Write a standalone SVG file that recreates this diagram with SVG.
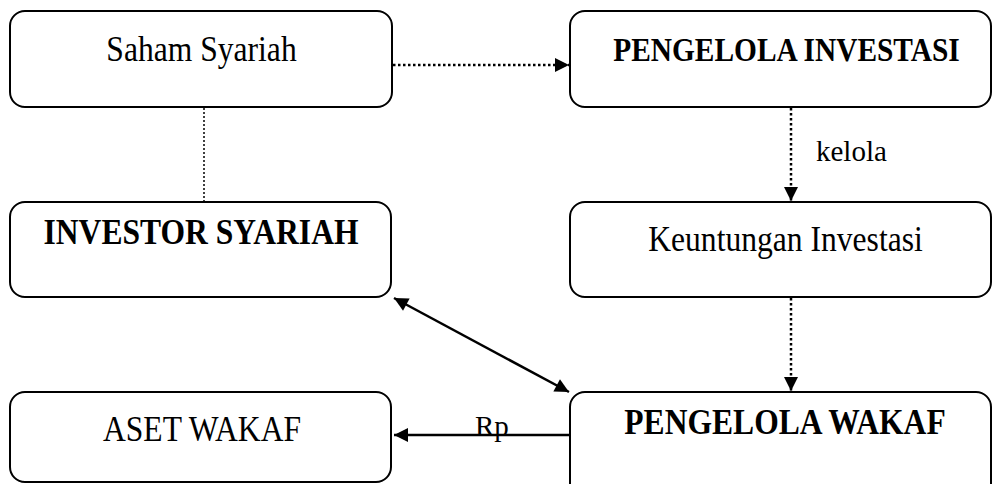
<svg xmlns="http://www.w3.org/2000/svg" width="992" height="484" viewBox="0 0 992 484">
<defs>
<style>
.box{fill:#fff;stroke:#000;stroke-width:2}
.t{font-family:"Liberation Serif","Times New Roman",serif;font-size:31.6px;text-anchor:middle;fill:#000}
.b{font-weight:bold}
.lbl{font-family:"Liberation Serif","Times New Roman",serif;font-size:29px;fill:#000}
.dot{fill:none;stroke:#000;stroke-width:2.5;stroke-dasharray:2.5 2.5}
.thin{fill:none;stroke:#000;stroke-width:1.5;stroke-dasharray:2 2}
.sol{fill:none;stroke:#000;stroke-width:2.5}
</style>
<marker id="ah" viewBox="0 0 10 10" refX="10" refY="5" markerWidth="16" markerHeight="14" markerUnits="userSpaceOnUse" orient="auto-start-reverse">
<path d="M0,0 L10,5 L0,10 Z" fill="#000"/>
</marker>
</defs>
<rect width="992" height="484" fill="#fff"/>
<g id="connectors">
<line class="dot" x1="393" y1="65" x2="569" y2="65" marker-end="url(#ah)"/>
<line class="thin" x1="204" y1="108" x2="204" y2="202"/>
<line class="dot" x1="791" y1="108" x2="791" y2="201" marker-end="url(#ah)"/>
<line class="dot" x1="791" y1="298" x2="791" y2="391" marker-end="url(#ah)"/>
<line class="sol" x1="394" y1="298" x2="569" y2="392" marker-start="url(#ah)" marker-end="url(#ah)"/>
<line class="sol" x1="570" y1="435" x2="394" y2="435" marker-end="url(#ah)"/>
<text class="lbl" x="816" y="161">kelola</text>
<text class="lbl" x="475" y="436">Rp</text>
</g>
<g id="saham"><rect class="box" x="10" y="11" width="382" height="96" rx="15"/><text class="t" transform="translate(201.5,61) scale(1,1.12)">Saham Syariah</text></g>
<g id="pengelola-investasi"><rect class="box" x="570" y="11" width="421" height="96" rx="15"/><text class="t b" style="font-size:29.4px" transform="translate(786.5,61) scale(1,1.15)">PENGELOLA INVESTASI</text></g>
<g id="investor"><rect class="box" x="10" y="202" width="381" height="95" rx="15"/><text class="t b" transform="translate(201,244) scale(1,1.12)">INVESTOR SYARIAH</text></g>
<g id="keuntungan"><rect class="box" x="570" y="202" width="421" height="95" rx="15"/><text class="t" transform="translate(785.5,251) scale(1,1.12)">Keuntungan Investasi</text></g>
<g id="aset"><rect class="box" x="10" y="392" width="381" height="90" rx="15"/><text class="t" transform="translate(202,441) scale(1,1.12)">ASET WAKAF</text></g>
<g id="pengelola-wakaf"><rect class="box" x="570" y="392" width="421" height="110" rx="15"/><text class="t b" transform="translate(785,434) scale(1,1.12)">PENGELOLA WAKAF</text></g>
</svg>
